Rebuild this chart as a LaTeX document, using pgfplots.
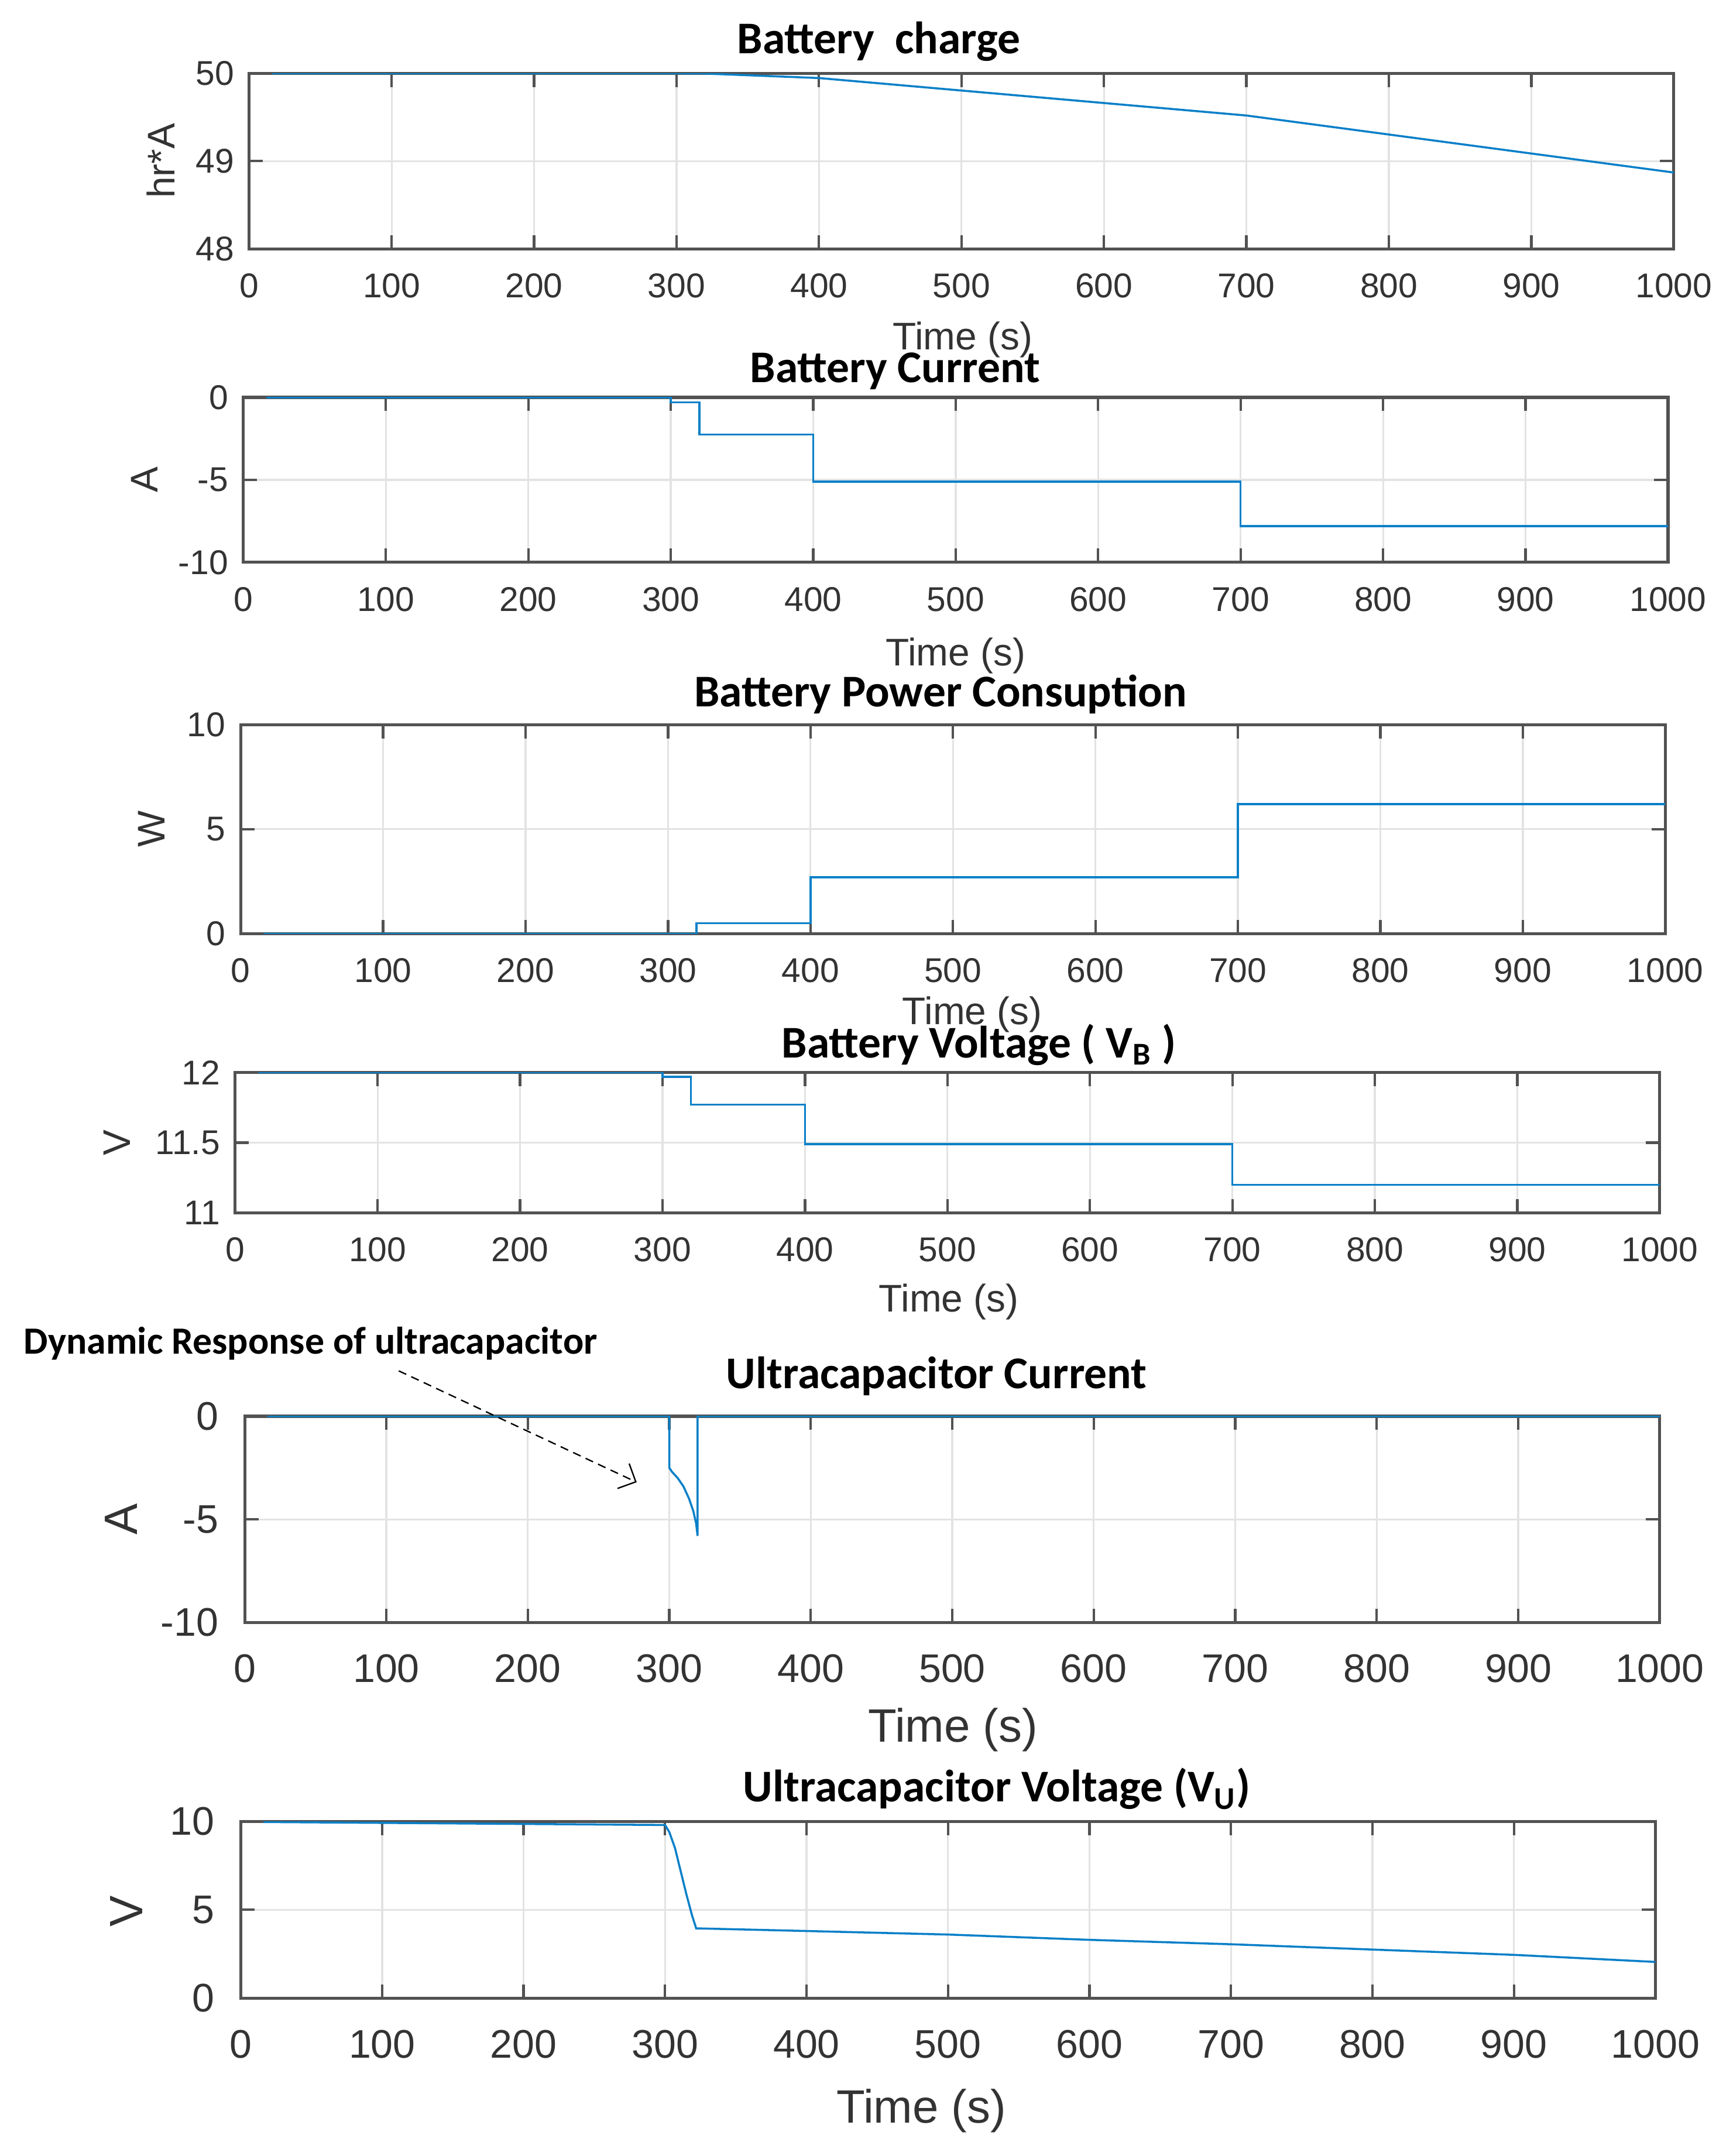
\documentclass[border=0pt]{standalone}
\usepackage{fontspec}
\setmainfont{Liberation Sans}
\newfontfamily\calibri{Carlito}
\usepackage{pgfplots}
\pgfplotsset{compat=1.18}
\usepackage{pgfplotstable}
\usetikzlibrary{arrows.meta}
\definecolor{matblue}{RGB}{10,128,200}

\pgfplotstableread{
x y
16 50
300 50
320 49.998
400 49.947
700 49.52
1000 48.87
}\charge
\pgfplotstableread{
x y
16 0
300 0
300 -0.3
320 -0.3
320 -2.25
400 -2.25
400 -5.1
700 -5.1
700 -7.8
1000 -7.8
}\bcurrent
\pgfplotstableread{
x y
16 0
320 0
320 0.5
400 0.5
400 2.7
700 2.7
700 6.2
1000 6.2
}\power
\pgfplotstableread{
x y
16 12
300 12
300 11.97
320 11.97
320 11.77
400 11.77
400 11.49
700 11.49
700 11.2
1000 11.2
}\bvolt
\pgfplotstableread{
x y
16 0
300 0
300 -2.5
302 -2.7
306 -3.0
310 -3.4
314 -4.0
317 -4.6
319 -5.2
320 -5.8
320 0
1000 0
}\ucurrent
\pgfplotstableread{
x y
16 9.97
300 9.8
303 9.4
307 8.5
311 7.2
315 5.9
319 4.7
322 3.95
400 3.8
500 3.6
600 3.3
700 3.05
800 2.75
900 2.45
1000 2.05
}\uvolt

\pgfplotsset{
  mat/.style={scale only axis, xmin=0, xmax=1000, xtick={0,100,...,1000},
    grid=major, grid style={black!11, line width=0.7pt},
    axis line style={black!68, line width=1.1pt},
    tick align=inside, major tick length=5pt,
    tick style={black!68, line width=0.9pt},
    /pgf/number format/assume math mode=true,
    /pgf/number format/1000 sep={},
    scaled ticks=false,
    ticklabel style={text=black!80},
    xticklabel style={font=\fontsize{12.5}{14}\selectfont, yshift=-5.5pt},
    yticklabel style={font=\fontsize{12.5}{14}\selectfont, xshift=-2pt},
  },
  big/.style={
    xticklabel style={font=\fontsize{14.5}{16}\selectfont, yshift=-2.5pt},
    yticklabel style={font=\fontsize{14.5}{16}\selectfont, xshift=-4pt},
  },
  pl/.style={color=matblue, line width=0.75pt},
}

\begin{document}
\begin{tikzpicture}
\path[use as bounding box] (0,0) rectangle (630pt,784pt);

\begin{axis}[mat, at={(90.6pt,693.5pt)}, anchor=south west, width=518pt, height=63.8pt,
  ymin=48, ymax=50, ytick={48,49,50}]
\addplot[pl] table {\charge};
\end{axis}

\begin{axis}[mat, at={(88.5pt,579.5pt)}, anchor=south west, width=518pt, height=60pt,
  ymin=-10, ymax=0, ytick={-10,-5,0}]
\addplot[pl] table {\bcurrent};
\end{axis}

\begin{axis}[mat, at={(87.5pt,444.5pt)}, anchor=south west, width=518pt, height=76pt,
  ymin=0, ymax=10, ytick={0,5,10}]
\addplot[pl] table {\power};
\end{axis}

\begin{axis}[mat, at={(85.5pt,343pt)}, anchor=south west, width=518pt, height=51pt,
  ymin=11, ymax=12, ytick={11,11.5,12}]
\addplot[pl] table {\bvolt};
\end{axis}

\begin{axis}[mat, big, at={(89pt,194pt)}, anchor=south west, width=514.5pt, height=75pt,
  ymin=-10, ymax=0, ytick={-10,-5,0}]
\addplot[pl] table {\ucurrent};
\end{axis}

\begin{axis}[mat, big, at={(87.5pt,57.4pt)}, anchor=south west, width=514.4pt, height=64.25pt,
  ymin=0, ymax=10, ytick={0,5,10}]
\addplot[pl] table {\uvolt};
\end{axis}

\begin{scope}[x=0.5pt, y=-0.5pt, yshift=784pt]
  \tikzset{ttl/.style={font=\calibri\bfseries\fontsize{16.5}{18}\selectfont, inner sep=0pt},
           xl/.style={font=\fontsize{14}{16}\selectfont, text=black!80, inner sep=0pt},
           xlb/.style={font=\fontsize{17}{19}\selectfont, text=black!80, inner sep=0pt},
           yl/.style={font=\fontsize{14}{16}\selectfont, text=black!80, rotate=90, inner sep=0pt},
           ylb/.style={font=\fontsize{17}{19}\selectfont, text=black!80, rotate=90, inner sep=0pt}}
  % titles
  \node[ttl] at (639,30) {Battery\ \ charge};
  \node[ttl] at (651,270) {Battery Current};
  \node[ttl] at (684,505) {Battery Power Consuption};
  \node[ttl] at (712,760) {Battery Voltage ( V\textsubscript{B} )};
  \node[ttl] at (681,1001) {Ultracapacitor Current};
  \node[ttl] at (725,1301) {Ultracapacitor Voltage (V\textsubscript{U})};
  % x labels
  \node[xl] at (700,247) {Time (s)};
  \node[xl] at (695,477) {Time (s)};
  \node[xl] at (707,738) {Time (s)};
  \node[xl] at (690,947) {Time (s)};
  \node[xlb] at (693,1258) {Time (s)};
  \node[xlb] at (670,1535) {Time (s)};
  % y labels
  \node[yl] at (117,117) {hr*A};
  \node[yl] at (105,349) {A};
  \node[yl] at (110,603) {W};
  \node[yl] at (85,831) {V};
  \node[ylb] at (88,1105) {A};
  \node[ylb] at (92,1390) {V};
  % annotation
  \node[font=\calibri\bfseries\fontsize{14}{16}\selectfont, anchor=west, inner sep=0pt] at (17,977) {Dynamic Response of ultracapacitor};
  \draw[densely dashed, line width=0.5pt, -{Straight Barb[length=5pt]}] (290,997) -- (463,1078);
\end{scope}
\end{tikzpicture}
\end{document}
